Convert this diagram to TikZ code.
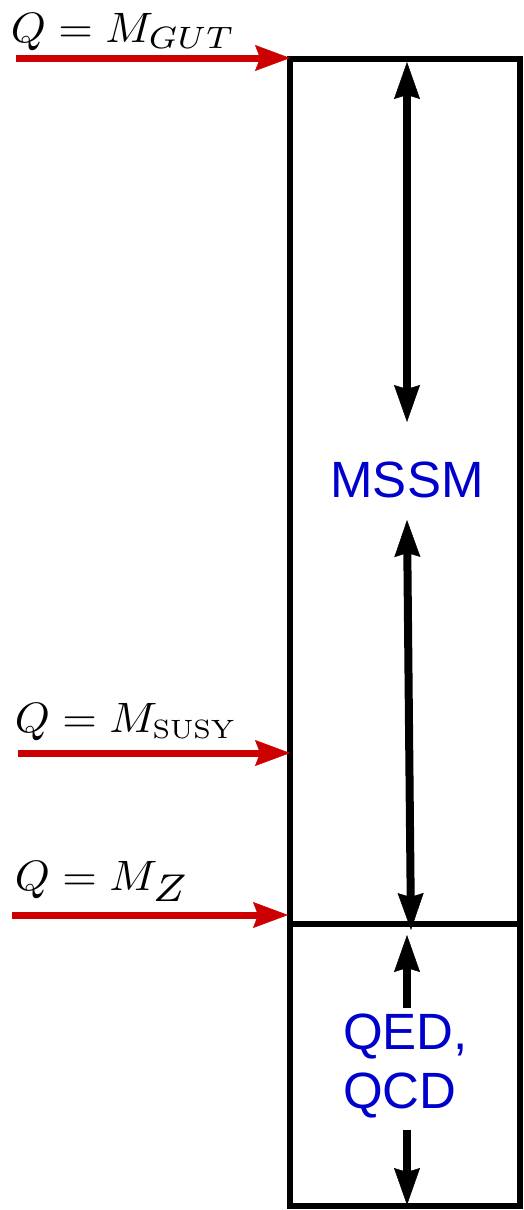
\documentclass[tikz,border=0pt]{standalone}
\usepackage{graphicx}
\usepackage{fontspec}
\newfontfamily\lsans{Liberation Sans}
\usetikzlibrary{arrows.meta}
\definecolor{qred}{RGB}{204,0,0}
\definecolor{qblue}{RGB}{0,0,204}
\begin{document}
\begin{tikzpicture}[x=1pt,y=-1pt,
  frame/.style={draw=black,line width=6pt,inner sep=0pt,outer sep=0pt,minimum width=230pt},
  blk/.style={draw=black,line width=8pt,
    arrows={-Stealth[length=37pt,width=26pt,inset=4pt,line width=0.5pt]}},
  dblk/.style={draw=black,line width=8pt,
    arrows={Stealth[length=37pt,width=26pt,inset=4pt,line width=0.5pt]-Stealth[length=37pt,width=26pt,inset=4pt,line width=0.5pt]}},
  redarrow/.style={draw=qred,line width=7pt,
    arrows={-Stealth[length=35pt,width=26pt,inset=5pt,line width=0.5pt]}},
  lab/.style={anchor=base west,inner sep=0pt,xscale=4.45,yscale=4.25},
  sans/.style={text=qblue,font=\lsans\fontsize{51}{61}\selectfont,inner sep=0pt}]
\useasboundingbox (0,0) rectangle (523,1210);
% boxes
\node[frame,minimum height=865pt] (upper) at (405,491.5) {};
\node[frame,minimum height=282pt] (lower) at (405,1065) {};
% text
\node[sans,anchor=base] (mssm) at (407,497) {MSSM};
\node[sans,anchor=base west] (qed) at (343,1049) {QED,};
\node[sans,anchor=base west] (qcd) at (343,1108) {QCD};
% black arrows
\coordinate (a1) at (407,62);
\coordinate (a2) at (407,422);
\coordinate (b1) at (407,520);
\coordinate (b2) at (411,930);
\coordinate (c1) at (407,1008);
\coordinate (c2) at (407,935);
\coordinate (d1) at (407,1130);
\coordinate (d2) at (407,1205);
\draw[dblk] (a1) -- (a2);
\draw[dblk] (b1) -- (b2);
\draw[blk] (c1) -- (c2);
\draw[blk] (d1) -- (d2);
% labels
\node[lab] (lgut) at (10,42) {$Q=M_{\scalebox{1.04}{$\scriptstyle GUT$}}$};
\node[lab] (lsusy) at (14,732) {$Q=M_{\scalebox{0.89}{$\scriptstyle\mathrm{SUSY}$}}$};
\node[lab] (lz) at (14,890) {$Q=M_{\scalebox{1.3}{$\scriptstyle Z$}}$};
% red arrows
\coordinate (g0) at (16,58);
\coordinate (s0) at (18,753);
\coordinate (z0) at (12,915);
\draw[redarrow] (g0) -- (g0 -| upper.west);
\draw[redarrow] (s0) -- (s0 -| upper.west);
\draw[redarrow,shorten >=2pt] (z0) -- (z0 -| upper.west);
\end{tikzpicture}
\end{document}
